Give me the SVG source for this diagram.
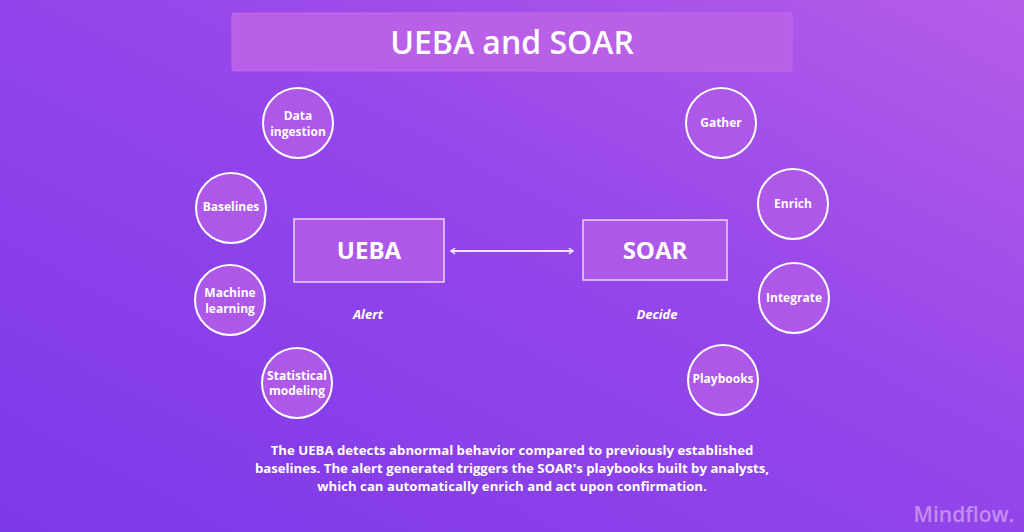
<svg xmlns="http://www.w3.org/2000/svg" width="1024" height="532" viewBox="0 0 1024 532">
<defs>
<linearGradient id="bg" x1="0" y1="1" x2="1" y2="0">
<stop offset="0" stop-color="#7d38e9"/>
<stop offset="0.55" stop-color="#9446ea"/>
<stop offset="1" stop-color="#b65de9"/>
</linearGradient>
<marker id="ah" viewBox="0 0 10 10" refX="8" refY="5" markerWidth="7" markerHeight="7" orient="auto-start-reverse" markerUnits="userSpaceOnUse">
<path d="M2,1 L8,5 L2,9" fill="none" stroke="#f2e6fb" stroke-width="2"/>
</marker>
</defs>
<style>
text{font-family:"Open Sans","Liberation Sans",sans-serif;fill:#ffffff;font-weight:bold;text-anchor:middle}
.c{fill:#ad58e9;stroke:#ffffff;stroke-width:2}
.ct{font-size:12px}
.box{fill:#ad58e9;stroke:#ecd3f8;stroke-width:1.5}
.bt{font-size:24px}
.lab{font-size:13px;font-style:italic}
.desc{font-size:13.2px}
</style>
<rect width="1024" height="532" fill="url(#bg)"/>
<g id="title">
<rect x="232" y="13" width="560" height="58" rx="2" fill="#ba5fe8" stroke="#c06ae9" stroke-width="1"/>
<text x="512" y="54" style="font-size:32px;font-weight:600">UEBA and SOAR</text>
</g>
<g id="connectors">
<line x1="451" y1="251" x2="573" y2="251" stroke="#f2e6fb" stroke-width="2" marker-start="url(#ah)" marker-end="url(#ah)"/>
</g>
<g id="ueba">
<rect class="box" x="294" y="219" width="150" height="63"/>
<text class="bt" x="369" y="259">UEBA</text>
<text class="lab" x="368" y="319">Alert</text>
</g>
<g id="soar">
<rect class="box" x="583" y="220" width="144" height="60"/>
<text class="bt" x="655" y="259">SOAR</text>
<text class="lab" x="657" y="319">Decide</text>
</g>
<g id="data-ingestion">
<circle class="c" cx="298" cy="123" r="35"/>
<text class="ct" x="298" y="120">Data</text>
<text class="ct" x="298" y="136">ingestion</text>
</g>
<g id="baselines">
<circle class="c" cx="231" cy="208" r="35"/>
<text class="ct" x="231" y="211">Baselines</text>
</g>
<g id="machine-learning">
<circle class="c" cx="230" cy="300" r="35"/>
<text class="ct" x="230" y="297">Machine</text>
<text class="ct" x="230" y="313">learning</text>
</g>
<g id="statistical-modeling">
<circle class="c" cx="297" cy="383" r="35"/>
<text class="ct" x="297" y="380">Statistical</text>
<text class="ct" x="297" y="395">modeling</text>
</g>
<g id="gather">
<circle class="c" cx="721" cy="123" r="35"/>
<text class="ct" x="721" y="127">Gather</text>
</g>
<g id="enrich">
<circle class="c" cx="793" cy="204" r="35"/>
<text class="ct" x="793" y="208">Enrich</text>
</g>
<g id="integrate">
<circle class="c" cx="794" cy="298" r="35"/>
<text class="ct" x="794" y="302">Integrate</text>
</g>
<g id="playbooks">
<circle class="c" cx="723" cy="380" r="35"/>
<text class="ct" x="723" y="383">Playbooks</text>
</g>
<g id="description">
<text class="desc" x="512" y="455">The UEBA detects abnormal behavior compared to previously established</text>
<text class="desc" x="512" y="473">baselines. The alert generated triggers the SOAR's playbooks built by analysts,</text>
<text class="desc" x="512" y="491">which can automatically enrich and act upon confirmation.</text>
</g>
<g id="logo">
<text x="964" y="522" style="font-size:21px;font-weight:600;fill:#c48cf0">Mindflow.</text>
</g>
</svg>
